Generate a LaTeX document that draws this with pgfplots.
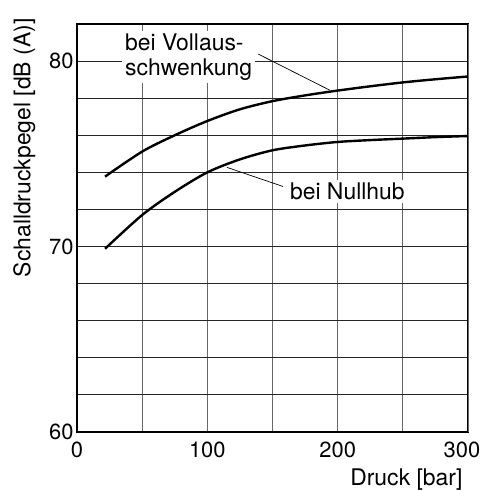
\documentclass[border=0pt]{standalone}
\usepackage{pgfplots}
\pgfplotsset{compat=1.18}
\usepackage{fontspec}
\setmainfont{TeX Gyre Heros}
\begin{document}
\begin{tikzpicture}
\useasboundingbox (-77bp,-59bp) rectangle (406bp,432bp);
\begin{axis}[
  scale only axis,
  width=391bp, height=408bp,
  xmin=0, xmax=300, ymin=60, ymax=82,
  xtick={0,100,200}, ytick={60,70,80},
  extra x ticks={300},
  extra x tick style={xticklabel style={xshift=-6bp}},
  minor xtick={50,150,250},
  minor ytick={62,64,66,68,72,74,76,78,82},
  grid=both,
  major grid style={black!75, line width=0.9bp},
  minor grid style={black!75, line width=0.9bp},
  major x grid style={black!60, line width=0.9bp},
  minor x grid style={black!60, line width=0.9bp},
  major y grid style={black!85, line width=0.9bp},
  minor y grid style={black!85, line width=0.9bp},
  major tick length=0pt, minor tick length=0pt,
  axis line style={line width=1.6bp},
  tick label style={font=\fontsize{22}{24}\selectfont},
  /pgf/number format/assume math mode=true,
  xticklabel style={yshift=-6bp},
  xlabel={Druck [bar]},
  ylabel={Schalldruckpegel [dB (A)]},
  label style={font=\fontsize{23}{25}\selectfont},
  xlabel style={at={(rel axis cs:1,0)}, anchor=north east, yshift=-33bp, xshift=-2bp},
  ylabel style={at={(rel axis cs:0,1)}, anchor=south east, yshift=38bp, xshift=9bp},
  clip=false,
]
\addplot[black, line width=2.4bp, smooth] coordinates {
  (21.5,73.77) (50,75.12) (75,76.0) (100,76.77) (125,77.4) (150,77.84) (175,78.15) (200,78.41) (225,78.64) (250,78.85) (275,79.02) (300,79.17)
};
\addplot[black, line width=2.4bp, smooth] coordinates {
  (21.5,69.88) (50,71.7) (75,72.95) (100,74.0) (125,74.7) (150,75.19) (175,75.45) (200,75.64) (225,75.74) (250,75.82) (275,75.9) (300,75.96)
};
\draw[black, line width=0.7bp] (axis cs:139,80.38) -- (axis cs:194,78.43);
\draw[black, line width=0.7bp] (axis cs:115,74.27) -- (axis cs:158,73.24);
\node[fill=white, anchor=west, align=left, inner sep=3bp, font=\fontsize{23}{25}\selectfont]
  at (axis cs:34.5,80.22) {bei Vollaus-\\schwenkung};
\node[fill=white, anchor=west, inner sep=3bp, font=\fontsize{23}{25}\selectfont]
  at (axis cs:161,72.97) {bei Nullhub};
\end{axis}
\end{tikzpicture}
\end{document}
